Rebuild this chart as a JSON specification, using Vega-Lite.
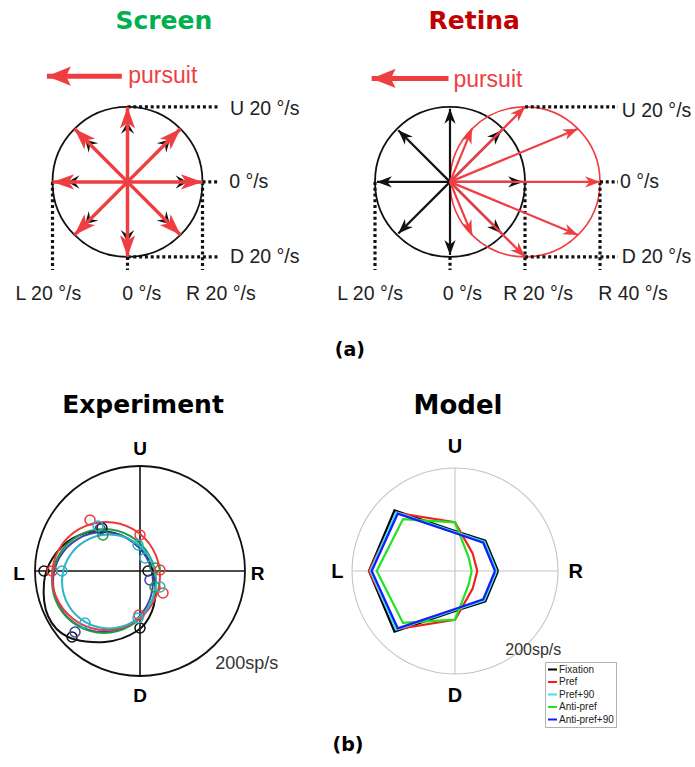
{
  "$schema": "https://vega.github.io/schema/vega-lite/v6.json",
  "padding": 0,
  "spacing": 0,
  "bounds": "flush",
  "columns": 2,
  "config": {"view": {"stroke": null}, "font": "Liberation Sans"},
  "resolve": {"scale": {"color": "independent", "angle": "independent"}, "legend": {"color": "independent"}},
  "concat": [
    {
      "width": 345,
      "height": 375,
      "data": {"values": [
        {"k": "circ", "x": 0, "y": 0},
        {"k": "dot", "x": 0, "y": 20, "xt": 24.1, "yt": 20},
        {"k": "dot", "x": 20, "y": 0, "xt": 24.1, "yt": 0},
        {"k": "dot", "x": 0, "y": -20, "xt": 24.1, "yt": -20},
        {"k": "dot", "x": -20, "y": 0, "xt": -20, "yt": -23.5},
        {"k": "dot", "x": 0, "y": -20, "xt": 0, "yt": -23.5},
        {"k": "dot", "x": 20, "y": 0, "xt": 20, "yt": -23.5},
        {"k": "ba", "dir": 0, "x": 16, "y": 0, "xt": 0, "yt": 0},
        {"k": "ba", "dir": 45, "x": 11.31, "y": 11.31, "xt": 0, "yt": 0},
        {"k": "ba", "dir": 90, "x": 0, "y": 16, "xt": 0, "yt": 0},
        {"k": "ba", "dir": 135, "x": -11.31, "y": 11.31, "xt": 0, "yt": 0},
        {"k": "ba", "dir": 180, "x": -16, "y": 0, "xt": 0, "yt": 0},
        {"k": "ba", "dir": 225, "x": -11.31, "y": -11.31, "xt": 0, "yt": 0},
        {"k": "ba", "dir": 270, "x": 0, "y": -16, "xt": 0, "yt": 0},
        {"k": "ba", "dir": 315, "x": 11.31, "y": -11.31, "xt": 0, "yt": 0},
        {"k": "ra", "dir": 0, "x": 20, "y": 0, "xt": 0, "yt": 0},
        {"k": "ra", "dir": 45, "x": 14.14, "y": 14.14, "xt": 0, "yt": 0},
        {"k": "ra", "dir": 90, "x": 0, "y": 20, "xt": 0, "yt": 0},
        {"k": "ra", "dir": 135, "x": -14.14, "y": 14.14, "xt": 0, "yt": 0},
        {"k": "ra", "dir": 180, "x": -20, "y": 0, "xt": 0, "yt": 0},
        {"k": "ra", "dir": 225, "x": -14.14, "y": -14.14, "xt": 0, "yt": 0},
        {"k": "ra", "dir": 270, "x": 0, "y": -20, "xt": 0, "yt": 0},
        {"k": "ra", "dir": 315, "x": 14.14, "y": -14.14, "xt": 0, "yt": 0},
        {"k": "pa", "dir": 180, "x": -21.5, "y": 28.2, "xt": -1.5, "yt": 28.2},
        {"k": "title", "x": 9.7, "y": 40.9, "label": "Screen"},
        {"k": "purs", "x": 0.2, "y": 26.3, "label": "pursuit"},
        {"k": "rl", "x": 27.3, "y": 17.8, "label": "U 20 °/s"},
        {"k": "rl", "x": 27.1, "y": -1.6, "label": "0 °/s"},
        {"k": "rl", "x": 27.3, "y": -21.7, "label": "D 20 °/s"},
        {"k": "bl", "x": -21.1, "y": -31.5, "label": "L 20 °/s"},
        {"k": "bl", "x": 3.8, "y": -31.5, "label": "0 °/s"},
        {"k": "bl", "x": 24.9, "y": -31.5, "label": "R 20 °/s"},
        {"k": "pl", "x": 59.3, "y": -44.8, "label": "(a)"}
      ]},
      "encoding": {
        "x": {"field": "x", "type": "quantitative", "scale": {"domain": [-34, 58], "nice": false, "zero": false}, "axis": null},
        "y": {"field": "y", "type": "quantitative", "scale": {"domain": [-51.5, 48.5], "nice": false, "zero": false}, "axis": null}
      },
      "layer": [
        {"transform": [{"filter": "datum.k == 'circ'"}], "mark": {"type": "point", "shape": "circle", "size": 22500, "filled": false, "stroke": "#111111", "strokeWidth": 1.8, "opacity": 1}},
        {"transform": [{"filter": "datum.k == 'dot'"}], "mark": {"type": "rule", "color": "#111111", "strokeWidth": 3.2, "strokeDash": [3, 2.8]}, "encoding": {"x2": {"field": "xt"}, "y2": {"field": "yt"}}},
        {"transform": [{"filter": "datum.k == 'ba'"}], "mark": {"type": "rule", "color": "#111111", "strokeWidth": 2}, "encoding": {"x2": {"field": "xt"}, "y2": {"field": "yt"}}},
        {"transform": [{"filter": "datum.k == 'ba'"}], "mark": {"type": "point", "shape": "M0,0L0.9,1.6L0,0.95L-0.9,1.6Z", "size": 225, "filled": true, "color": "#111111", "opacity": 1}, "encoding": {"angle": {"field": "dir", "type": "quantitative", "scale": {"domain": [0, 360], "range": [90, -270]}}}},
        {"transform": [{"filter": "datum.k == 'ra' || datum.k == 'pa'"}], "mark": {"type": "rule", "color": "#EF3E42"}, "encoding": {"x2": {"field": "xt"}, "y2": {"field": "yt"}, "strokeWidth": {"condition": {"test": "datum.k == 'pa'", "value": 5}, "value": 3.5}}},
        {"transform": [{"filter": "datum.k == 'ra'"}], "mark": {"type": "point", "shape": "M0,0L0.7,2L0,1.5L-0.7,2Z", "size": 467, "filled": true, "color": "#EF3E42", "opacity": 1}, "encoding": {"angle": {"field": "dir", "type": "quantitative", "scale": {"domain": [0, 360], "range": [90, -270]}}}},
        {"transform": [{"filter": "datum.k == 'pa'"}], "mark": {"type": "point", "shape": "M0,0L0.8,2L0,1.6L-0.8,2Z", "size": 576, "filled": true, "color": "#EF3E42", "opacity": 1}, "encoding": {"angle": {"field": "dir", "type": "quantitative", "scale": {"domain": [0, 360], "range": [90, -270]}}}},
        {"transform": [{"filter": "datum.k == 'title'"}], "mark": {"type": "text", "font": "DejaVu Sans", "fontWeight": "bold", "fontSize": 25, "align": "center", "baseline": "alphabetic", "color": "#00B050"}, "encoding": {"text": {"field": "label"}}},
        {"transform": [{"filter": "datum.k == 'purs'"}], "mark": {"type": "text", "fontSize": 23, "align": "left", "baseline": "alphabetic", "color": "#EF3E42"}, "encoding": {"text": {"field": "label"}}},
        {"transform": [{"filter": "datum.k == 'rl'"}], "mark": {"type": "text", "fontSize": 19.5, "align": "left", "baseline": "alphabetic", "color": "#222222"}, "encoding": {"text": {"field": "label"}}},
        {"transform": [{"filter": "datum.k == 'bl'"}], "mark": {"type": "text", "fontSize": 19.5, "align": "center", "baseline": "alphabetic", "color": "#222222"}, "encoding": {"text": {"field": "label"}}},
        {"transform": [{"filter": "datum.k == 'pl'"}], "mark": {"type": "text", "font": "DejaVu Sans", "fontWeight": "bold", "fontSize": 19, "align": "center", "baseline": "middle", "color": "#000000"}, "encoding": {"text": {"field": "label"}}}
      ]
    },
    {
      "width": 350,
      "height": 375,
      "data": {"values": [
        {"k": "circ", "x": 0, "y": 0},
        {"k": "rcirc", "x": 20, "y": 0},
        {"k": "dot", "x": 20, "y": 20, "xt": 44.8, "yt": 20},
        {"k": "dot", "x": 40, "y": 0, "xt": 44.8, "yt": 0},
        {"k": "dot", "x": 20, "y": -20, "xt": 44.8, "yt": -20},
        {"k": "dot", "x": -20, "y": 0, "xt": -20, "yt": -23.5},
        {"k": "dot", "x": 0, "y": -20, "xt": 0, "yt": -23.5},
        {"k": "dot", "x": 20, "y": 0, "xt": 20, "yt": -23.5},
        {"k": "dot", "x": 40, "y": 0, "xt": 40, "yt": -23.5},
        {"k": "ba", "dir": 0, "x": 19.5, "y": 0, "xt": 0, "yt": 0},
        {"k": "ba", "dir": 45, "x": 13.79, "y": 13.79, "xt": 0, "yt": 0},
        {"k": "ba", "dir": 90, "x": 0, "y": 19.5, "xt": 0, "yt": 0},
        {"k": "ba", "dir": 135, "x": -13.79, "y": 13.79, "xt": 0, "yt": 0},
        {"k": "ba", "dir": 180, "x": -19.5, "y": 0, "xt": 0, "yt": 0},
        {"k": "ba", "dir": 225, "x": -13.79, "y": -13.79, "xt": 0, "yt": 0},
        {"k": "ba", "dir": 270, "x": 0, "y": -19.5, "xt": 0, "yt": 0},
        {"k": "ba", "dir": 315, "x": 13.79, "y": -13.79, "xt": 0, "yt": 0},
        {"k": "ra", "dir": 0, "x": 40, "y": 0, "xt": 0, "yt": 0},
        {"k": "ra", "dir": 22.5, "x": 34.14, "y": 14.14, "xt": 0, "yt": 0},
        {"k": "ra", "dir": 45, "x": 20, "y": 20, "xt": 0, "yt": 0},
        {"k": "ra", "dir": 67.5, "x": 5.86, "y": 14.14, "xt": 0, "yt": 0},
        {"k": "ra", "dir": 292.5, "x": 5.86, "y": -14.14, "xt": 0, "yt": 0},
        {"k": "ra", "dir": 315, "x": 20, "y": -20, "xt": 0, "yt": 0},
        {"k": "ra", "dir": 337.5, "x": 34.14, "y": -14.14, "xt": 0, "yt": 0},
        {"k": "pa", "dir": 180, "x": -20.9, "y": 27.6, "xt": -0.4, "yt": 27.6},
        {"k": "title", "x": 6.45, "y": 40.7, "label": "Retina"},
        {"k": "purs", "x": 0.9, "y": 25.2, "label": "pursuit"},
        {"k": "rl", "x": 45.8, "y": 17.4, "label": "U 20 °/s"},
        {"k": "rl", "x": 45.3, "y": -1.7, "label": "0 °/s"},
        {"k": "rl", "x": 45.8, "y": -21.7, "label": "D 20 °/s"},
        {"k": "bl", "x": -21.3, "y": -31.5, "label": "L 20 °/s"},
        {"k": "bl", "x": 3.3, "y": -31.5, "label": "0 °/s"},
        {"k": "bl", "x": 23.5, "y": -31.5, "label": "R 20 °/s"},
        {"k": "bl", "x": 48.8, "y": -31.5, "label": "R 40 °/s"}
      ]},
      "encoding": {
        "x": {"field": "x", "type": "quantitative", "scale": {"domain": [-28, 65.3333], "nice": false, "zero": false}, "axis": null},
        "y": {"field": "y", "type": "quantitative", "scale": {"domain": [-51.5, 48.5], "nice": false, "zero": false}, "axis": null}
      },
      "layer": [
        {"transform": [{"filter": "datum.k == 'circ'"}], "mark": {"type": "point", "shape": "circle", "size": 22500, "filled": false, "stroke": "#111111", "strokeWidth": 1.8, "opacity": 1}},
        {"transform": [{"filter": "datum.k == 'rcirc'"}], "mark": {"type": "point", "shape": "circle", "size": 22500, "filled": false, "stroke": "#EF3E42", "strokeWidth": 1.6, "opacity": 1}},
        {"transform": [{"filter": "datum.k == 'dot'"}], "mark": {"type": "rule", "color": "#111111", "strokeWidth": 3.2, "strokeDash": [3, 2.8]}, "encoding": {"x2": {"field": "xt"}, "y2": {"field": "yt"}}},
        {"transform": [{"filter": "datum.k == 'ba'"}], "mark": {"type": "rule", "color": "#111111", "strokeWidth": 2.2}, "encoding": {"x2": {"field": "xt"}, "y2": {"field": "yt"}}},
        {"transform": [{"filter": "datum.k == 'ba'"}], "mark": {"type": "point", "shape": "M0,0L0.75,2L0,1.4L-0.75,2Z", "size": 225, "filled": true, "color": "#111111", "opacity": 1}, "encoding": {"angle": {"field": "dir", "type": "quantitative", "scale": {"domain": [0, 360], "range": [90, -270]}}}},
        {"transform": [{"filter": "datum.k == 'ra' || datum.k == 'pa'"}], "mark": {"type": "rule", "color": "#EF3E42"}, "encoding": {"x2": {"field": "xt"}, "y2": {"field": "yt"}, "strokeWidth": {"condition": {"test": "datum.k == 'pa'", "value": 5}, "value": 2.2}}},
        {"transform": [{"filter": "datum.k == 'ra'"}], "mark": {"type": "point", "shape": "M0,0L0.75,2L0,1.4L-0.75,2Z", "size": 225, "filled": true, "color": "#EF3E42", "opacity": 1}, "encoding": {"angle": {"field": "dir", "type": "quantitative", "scale": {"domain": [0, 360], "range": [90, -270]}}}},
        {"transform": [{"filter": "datum.k == 'pa'"}], "mark": {"type": "point", "shape": "M0,0L0.8,2L0,1.6L-0.8,2Z", "size": 576, "filled": true, "color": "#EF3E42", "opacity": 1}, "encoding": {"angle": {"field": "dir", "type": "quantitative", "scale": {"domain": [0, 360], "range": [90, -270]}}}},
        {"transform": [{"filter": "datum.k == 'title'"}], "mark": {"type": "text", "font": "DejaVu Sans", "fontWeight": "bold", "fontSize": 25, "align": "center", "baseline": "alphabetic", "color": "#C00000"}, "encoding": {"text": {"field": "label"}}},
        {"transform": [{"filter": "datum.k == 'purs'"}], "mark": {"type": "text", "fontSize": 23, "align": "left", "baseline": "alphabetic", "color": "#EF3E42"}, "encoding": {"text": {"field": "label"}}},
        {"transform": [{"filter": "datum.k == 'rl'"}], "mark": {"type": "text", "fontSize": 19.5, "align": "left", "baseline": "alphabetic", "color": "#222222"}, "encoding": {"text": {"field": "label"}}},
        {"transform": [{"filter": "datum.k == 'bl'"}], "mark": {"type": "text", "fontSize": 19.5, "align": "center", "baseline": "alphabetic", "color": "#222222"}, "encoding": {"text": {"field": "label"}}}
      ]
    },
    {
      "width": 345,
      "height": 392,
      "data": {"values": [
        {"k": "circ", "x": 0, "y": 0},
        {"k": "ax", "x": -200, "y": 0, "xt": 200, "yt": 0},
        {"k": "ax", "x": 0, "y": -200, "xt": 0, "yt": 200},
        {"k": "fit", "g": "black", "i": 0, "x": 28.6, "y": -28.6},
        {"k": "fit", "g": "black", "i": 1, "x": 14.5, "y": 23.8},
        {"k": "fit", "g": "black", "i": 2, "x": -23.8, "y": 62.1},
        {"k": "fit", "g": "black", "i": 3, "x": -76.2, "y": 76.2},
        {"k": "fit", "g": "black", "i": 4, "x": -128.6, "y": 62.1},
        {"k": "fit", "g": "black", "i": 5, "x": -166.9, "y": 23.8},
        {"k": "fit", "g": "black", "i": 6, "x": -182.9, "y": -22.9},
        {"k": "fit", "g": "black", "i": 7, "x": -175.2, "y": -85.7},
        {"k": "fit", "g": "black", "i": 8, "x": -137.1, "y": -125.7},
        {"k": "fit", "g": "black", "i": 9, "x": -66.7, "y": -135.2},
        {"k": "fit", "g": "black", "i": 10, "x": -5.7, "y": -114.3},
        {"k": "fit", "g": "black", "i": 11, "x": 22.9, "y": -76.2},
        {"k": "fit", "g": "blue", "i": 0, "x": 24.7, "y": -21.0},
        {"k": "fit", "g": "blue", "i": 1, "x": 11.9, "y": 26.6},
        {"k": "fit", "g": "blue", "i": 2, "x": -22.9, "y": 61.4},
        {"k": "fit", "g": "blue", "i": 3, "x": -70.5, "y": 74.2},
        {"k": "fit", "g": "blue", "i": 4, "x": -118.1, "y": 61.4},
        {"k": "fit", "g": "blue", "i": 5, "x": -152.9, "y": 26.6},
        {"k": "fit", "g": "blue", "i": 6, "x": -165.7, "y": -21.0},
        {"k": "fit", "g": "blue", "i": 7, "x": -152.9, "y": -68.6},
        {"k": "fit", "g": "blue", "i": 8, "x": -118.1, "y": -103.4},
        {"k": "fit", "g": "blue", "i": 9, "x": -70.5, "y": -116.2},
        {"k": "fit", "g": "blue", "i": 10, "x": -22.9, "y": -103.4},
        {"k": "fit", "g": "blue", "i": 11, "x": 11.9, "y": -68.6},
        {"k": "fit", "g": "green", "i": 0, "x": 30.4, "y": -19.0},
        {"k": "fit", "g": "green", "i": 1, "x": 17.1, "y": 30.5},
        {"k": "fit", "g": "green", "i": 2, "x": -19.1, "y": 66.7},
        {"k": "fit", "g": "green", "i": 3, "x": -68.6, "y": 80.0},
        {"k": "fit", "g": "green", "i": 4, "x": -118.1, "y": 66.7},
        {"k": "fit", "g": "green", "i": 5, "x": -154.3, "y": 30.5},
        {"k": "fit", "g": "green", "i": 6, "x": -167.6, "y": -19.0},
        {"k": "fit", "g": "green", "i": 7, "x": -154.3, "y": -68.5},
        {"k": "fit", "g": "green", "i": 8, "x": -118.1, "y": -104.7},
        {"k": "fit", "g": "green", "i": 9, "x": -68.6, "y": -118.0},
        {"k": "fit", "g": "green", "i": 10, "x": -19.1, "y": -104.7},
        {"k": "fit", "g": "green", "i": 11, "x": 17.1, "y": -68.5},
        {"k": "fit", "g": "red", "i": 0, "x": 38.1, "y": -9.5},
        {"k": "fit", "g": "red", "i": 1, "x": 24.3, "y": 42.0},
        {"k": "fit", "g": "red", "i": 2, "x": -13.3, "y": 79.6},
        {"k": "fit", "g": "red", "i": 3, "x": -64.8, "y": 93.4},
        {"k": "fit", "g": "red", "i": 4, "x": -116.3, "y": 79.6},
        {"k": "fit", "g": "red", "i": 5, "x": -153.9, "y": 42.0},
        {"k": "fit", "g": "red", "i": 6, "x": -167.7, "y": -9.5},
        {"k": "fit", "g": "red", "i": 7, "x": -153.9, "y": -61.0},
        {"k": "fit", "g": "red", "i": 8, "x": -116.3, "y": -98.6},
        {"k": "fit", "g": "red", "i": 9, "x": -64.8, "y": -112.4},
        {"k": "fit", "g": "red", "i": 10, "x": -13.3, "y": -98.6},
        {"k": "fit", "g": "red", "i": 11, "x": 24.3, "y": -61.0},
        {"k": "fit", "g": "cyan", "i": 0, "x": 30.5, "y": -20.0},
        {"k": "fit", "g": "cyan", "i": 1, "x": 18.5, "y": 24.8},
        {"k": "fit", "g": "cyan", "i": 2, "x": -14.3, "y": 57.5},
        {"k": "fit", "g": "cyan", "i": 3, "x": -59.0, "y": 69.5},
        {"k": "fit", "g": "cyan", "i": 4, "x": -103.8, "y": 57.5},
        {"k": "fit", "g": "cyan", "i": 5, "x": -136.5, "y": 24.8},
        {"k": "fit", "g": "cyan", "i": 6, "x": -148.5, "y": -20.0},
        {"k": "fit", "g": "cyan", "i": 7, "x": -136.5, "y": -64.8},
        {"k": "fit", "g": "cyan", "i": 8, "x": -103.8, "y": -97.5},
        {"k": "fit", "g": "cyan", "i": 9, "x": -59.0, "y": -109.5},
        {"k": "fit", "g": "cyan", "i": 10, "x": -14.3, "y": -97.5},
        {"k": "fit", "g": "cyan", "i": 11, "x": 18.5, "y": -64.8},
        {"k": "mk", "g": "black", "x": -182.9, "y": 0},
        {"k": "mk", "g": "black", "x": -129.5, "y": -125.7},
        {"k": "mk", "g": "black", "x": 0, "y": -108.6},
        {"k": "mk", "g": "black", "x": 15.2, "y": 0},
        {"k": "mk", "g": "black", "x": -72.4, "y": 81.9},
        {"k": "mk", "g": "blue", "x": 19, "y": -17.1},
        {"k": "mk", "g": "blue", "x": -123.8, "y": -116.2},
        {"k": "mk", "g": "blue", "x": -76, "y": 80},
        {"k": "mk", "g": "green", "x": -70.5, "y": 68.6},
        {"k": "mk", "g": "green", "x": 28.6, "y": 5.7},
        {"k": "mk", "g": "green", "x": 28.6, "y": -30.5},
        {"k": "mk", "g": "red", "x": -95.2, "y": 97.2},
        {"k": "mk", "g": "red", "x": 0, "y": 68.6},
        {"k": "mk", "g": "red", "x": 38.1, "y": 1.9},
        {"k": "mk", "g": "red", "x": 43.8, "y": -41.9},
        {"k": "mk", "g": "red", "x": -1.9, "y": -83.8},
        {"k": "mk", "g": "red", "x": -167.6, "y": 0},
        {"k": "mk", "g": "cyan", "x": -80, "y": 85.7},
        {"k": "mk", "g": "cyan", "x": -3.8, "y": 49.5},
        {"k": "mk", "g": "cyan", "x": 9.5, "y": 24.8},
        {"k": "mk", "g": "cyan", "x": 38.1, "y": -30.5},
        {"k": "mk", "g": "cyan", "x": -3.8, "y": -89.5},
        {"k": "mk", "g": "cyan", "x": -104.8, "y": -99.1},
        {"k": "mk", "g": "cyan", "x": -148.6, "y": 0},
        {"k": "title", "x": 5.7, "y": 300.4, "label": "Experiment"},
        {"k": "dl", "x": 0, "y": 221, "label": "U"},
        {"k": "dl", "x": 0, "y": -249, "label": "D"},
        {"k": "dl", "x": -230.5, "y": -17.1, "label": "L"},
        {"k": "dl", "x": 223.8, "y": -17.1, "label": "R"},
        {"k": "sc", "x": 203.2, "y": -187.2, "label": "200sp/s"}
      ]},
      "encoding": {
        "x": {"field": "x", "type": "quantitative", "scale": {"domain": [-266.667, 390.476], "nice": false, "zero": false}, "axis": null},
        "y": {"field": "y", "type": "quantitative", "scale": {"domain": [-373.333, 373.333], "nice": false, "zero": false}, "axis": null}
      },
      "layer": [
        {"transform": [{"filter": "datum.k == 'circ'"}], "mark": {"type": "point", "shape": "circle", "size": 44100, "filled": false, "stroke": "#111111", "strokeWidth": 1.8, "opacity": 1}},
        {"transform": [{"filter": "datum.k == 'ax'"}], "mark": {"type": "rule", "color": "#111111", "strokeWidth": 1.6}, "encoding": {"x2": {"field": "xt"}, "y2": {"field": "yt"}}},
        {"transform": [{"filter": "datum.k == 'fit'"}], "mark": {"type": "line", "interpolate": "cardinal-closed", "strokeWidth": 2}, "encoding": {"order": {"field": "i", "type": "quantitative"}, "color": {"field": "g", "type": "nominal", "scale": {"domain": ["black", "blue", "green", "red", "cyan"], "range": ["#111111", "#3A46A6", "#1F9A4A", "#EE3A3A", "#2BB5C6"]}, "legend": null}}},
        {"transform": [{"filter": "datum.k == 'mk'"}], "mark": {"type": "point", "shape": "circle", "size": 100, "filled": false, "strokeWidth": 1.5, "opacity": 1}, "encoding": {"color": {"field": "g", "type": "nominal", "legend": null}}},
        {"transform": [{"filter": "datum.k == 'title'"}], "mark": {"type": "text", "font": "DejaVu Sans", "fontWeight": "bold", "fontSize": 25, "align": "center", "baseline": "alphabetic", "color": "#000000"}, "encoding": {"text": {"field": "label"}}},
        {"transform": [{"filter": "datum.k == 'dl'"}], "mark": {"type": "text", "fontWeight": "bold", "fontSize": 19, "align": "center", "baseline": "alphabetic", "color": "#000000"}, "encoding": {"text": {"field": "label"}}},
        {"transform": [{"filter": "datum.k == 'sc'"}], "mark": {"type": "text", "fontSize": 18, "align": "center", "baseline": "alphabetic", "color": "#333333"}, "encoding": {"text": {"field": "label"}}}
      ]
    },
    {
      "width": 350,
      "height": 392,
      "data": {"values": [
        {"k": "circ", "x": 0, "y": 0},
        {"k": "ax", "x": -200, "y": 0, "xt": 200, "yt": 0},
        {"k": "ax", "x": 0, "y": -200, "xt": 0, "yt": 200},
        {"k": "poly", "s": "Fixation", "i": 0, "x": 83.5, "y": 0},
        {"k": "poly", "s": "Fixation", "i": 1, "x": 59.0, "y": 59.0},
        {"k": "poly", "s": "Fixation", "i": 2, "x": 0, "y": 77.7},
        {"k": "poly", "s": "Fixation", "i": 3, "x": -117.5, "y": 117.5},
        {"k": "poly", "s": "Fixation", "i": 4, "x": -167.0, "y": 0},
        {"k": "poly", "s": "Fixation", "i": 5, "x": -117.5, "y": -117.5},
        {"k": "poly", "s": "Fixation", "i": 6, "x": 0, "y": -77.7},
        {"k": "poly", "s": "Fixation", "i": 7, "x": 59.0, "y": -59.0},
        {"k": "poly", "s": "Fixation", "i": 8, "x": 83.5, "y": 0},
        {"k": "poly", "s": "Pref", "i": 0, "x": 43.3, "y": 0},
        {"k": "poly", "s": "Pref", "i": 1, "x": 34.3, "y": 34.3},
        {"k": "poly", "s": "Pref", "i": 2, "x": 0, "y": 94.6},
        {"k": "poly", "s": "Pref", "i": 3, "x": -112.6, "y": 112.6},
        {"k": "poly", "s": "Pref", "i": 4, "x": -167.0, "y": 0},
        {"k": "poly", "s": "Pref", "i": 5, "x": -112.6, "y": -112.6},
        {"k": "poly", "s": "Pref", "i": 6, "x": 0, "y": -94.6},
        {"k": "poly", "s": "Pref", "i": 7, "x": 34.3, "y": -34.3},
        {"k": "poly", "s": "Pref", "i": 8, "x": 43.3, "y": 0},
        {"k": "poly", "s": "Pref+90", "i": 0, "x": 80.6, "y": 0},
        {"k": "poly", "s": "Pref+90", "i": 1, "x": 57.0, "y": 57.0},
        {"k": "poly", "s": "Pref+90", "i": 2, "x": 0, "y": 75.7},
        {"k": "poly", "s": "Pref+90", "i": 3, "x": -114.0, "y": 114.0},
        {"k": "poly", "s": "Pref+90", "i": 4, "x": -164.1, "y": 0},
        {"k": "poly", "s": "Pref+90", "i": 5, "x": -114.0, "y": -114.0},
        {"k": "poly", "s": "Pref+90", "i": 6, "x": 0, "y": -75.7},
        {"k": "poly", "s": "Pref+90", "i": 7, "x": 57.0, "y": -57.0},
        {"k": "poly", "s": "Pref+90", "i": 8, "x": 80.6, "y": 0},
        {"k": "poly", "s": "Anti-pref", "i": 0, "x": 32.4, "y": 0},
        {"k": "poly", "s": "Anti-pref", "i": 1, "x": 26.5, "y": 26.5},
        {"k": "poly", "s": "Anti-pref", "i": 2, "x": 0, "y": 94.6},
        {"k": "poly", "s": "Anti-pref", "i": 3, "x": -100.9, "y": 100.9},
        {"k": "poly", "s": "Anti-pref", "i": 4, "x": -152.0, "y": 0},
        {"k": "poly", "s": "Anti-pref", "i": 5, "x": -100.9, "y": -100.9},
        {"k": "poly", "s": "Anti-pref", "i": 6, "x": 0, "y": -94.6},
        {"k": "poly", "s": "Anti-pref", "i": 7, "x": 26.5, "y": -26.5},
        {"k": "poly", "s": "Anti-pref", "i": 8, "x": 32.4, "y": 0},
        {"k": "poly", "s": "Anti-pref+90", "i": 0, "x": 77.7, "y": 0},
        {"k": "poly", "s": "Anti-pref+90", "i": 1, "x": 54.9, "y": 54.9},
        {"k": "poly", "s": "Anti-pref+90", "i": 2, "x": 0, "y": 73.8},
        {"k": "poly", "s": "Anti-pref+90", "i": 3, "x": -111.2, "y": 111.2},
        {"k": "poly", "s": "Anti-pref+90", "i": 4, "x": -161.7, "y": 0},
        {"k": "poly", "s": "Anti-pref+90", "i": 5, "x": -111.2, "y": -111.2},
        {"k": "poly", "s": "Anti-pref+90", "i": 6, "x": 0, "y": -73.8},
        {"k": "poly", "s": "Anti-pref+90", "i": 7, "x": 54.9, "y": -54.9},
        {"k": "poly", "s": "Anti-pref+90", "i": 8, "x": 77.7, "y": 0},
        {"k": "title", "x": 5.8, "y": 304.9, "label": "Model"},
        {"k": "dl", "x": 0, "y": 228.5, "label": "U"},
        {"k": "dl", "x": 0, "y": -253.7, "label": "D"},
        {"k": "dl", "x": -228.2, "y": -14.2, "label": "L"},
        {"k": "dl", "x": 234.6, "y": -14.2, "label": "R"},
        {"k": "sc", "x": 152, "y": -163.1, "label": "200sp/s"},
        {"k": "pl", "x": -207.8, "y": -337.9, "label": "(b)"}
      ]},
      "encoding": {
        "x": {"field": "x", "type": "quantitative", "scale": {"domain": [-213.592, 466.019], "nice": false, "zero": false}, "axis": null},
        "y": {"field": "y", "type": "quantitative", "scale": {"domain": [-380.583, 380.583], "nice": false, "zero": false}, "axis": null}
      },
      "layer": [
        {"transform": [{"filter": "datum.k == 'circ'"}], "mark": {"type": "point", "shape": "circle", "size": 42436, "filled": false, "stroke": "#C4C4C4", "strokeWidth": 1.1, "opacity": 1}},
        {"transform": [{"filter": "datum.k == 'ax'"}], "mark": {"type": "rule", "color": "#C4C4C4", "strokeWidth": 1.1}, "encoding": {"x2": {"field": "xt"}, "y2": {"field": "yt"}}},
        {"transform": [{"filter": "datum.k == 'poly'"}], "mark": {"type": "line", "strokeWidth": 2.2}, "encoding": {"order": {"field": "i", "type": "quantitative"}, "strokeWidth": {"condition": {"test": "datum.s == 'Fixation'", "value": 2.8}, "value": 2.1}, "color": {"field": "s", "type": "nominal", "scale": {"domain": ["Fixation", "Pref", "Pref+90", "Anti-pref", "Anti-pref+90"], "range": ["#000000", "#F41E1E", "#33E6F2", "#22E022", "#1A1AF5"]}, "legend": {"orient": "none", "legendX": 200, "legendY": 287, "title": null, "symbolType": "stroke", "symbolSize": 81, "symbolStrokeWidth": 2, "labelFontSize": 10, "labelFont": "Liberation Sans", "labelColor": "#222222", "labelOffset": 1, "padding": 2, "rowPadding": 1.5, "strokeColor": "#B0B0B0", "fillColor": "#FFFFFF", "labelLimit": 120}}}},
        {"transform": [{"filter": "datum.k == 'title'"}], "mark": {"type": "text", "font": "DejaVu Sans", "fontWeight": "bold", "fontSize": 26, "align": "center", "baseline": "alphabetic", "color": "#000000"}, "encoding": {"text": {"field": "label"}}},
        {"transform": [{"filter": "datum.k == 'dl'"}], "mark": {"type": "text", "fontWeight": "bold", "fontSize": 20, "align": "center", "baseline": "alphabetic", "color": "#000000"}, "encoding": {"text": {"field": "label"}}},
        {"transform": [{"filter": "datum.k == 'sc'"}], "mark": {"type": "text", "fontSize": 16, "align": "center", "baseline": "alphabetic", "color": "#333333"}, "encoding": {"text": {"field": "label"}}},
        {"transform": [{"filter": "datum.k == 'pl'"}], "mark": {"type": "text", "font": "DejaVu Sans", "fontWeight": "bold", "fontSize": 19, "align": "center", "baseline": "middle", "color": "#000000"}, "encoding": {"text": {"field": "label"}}}
      ]
    }
  ]
}
